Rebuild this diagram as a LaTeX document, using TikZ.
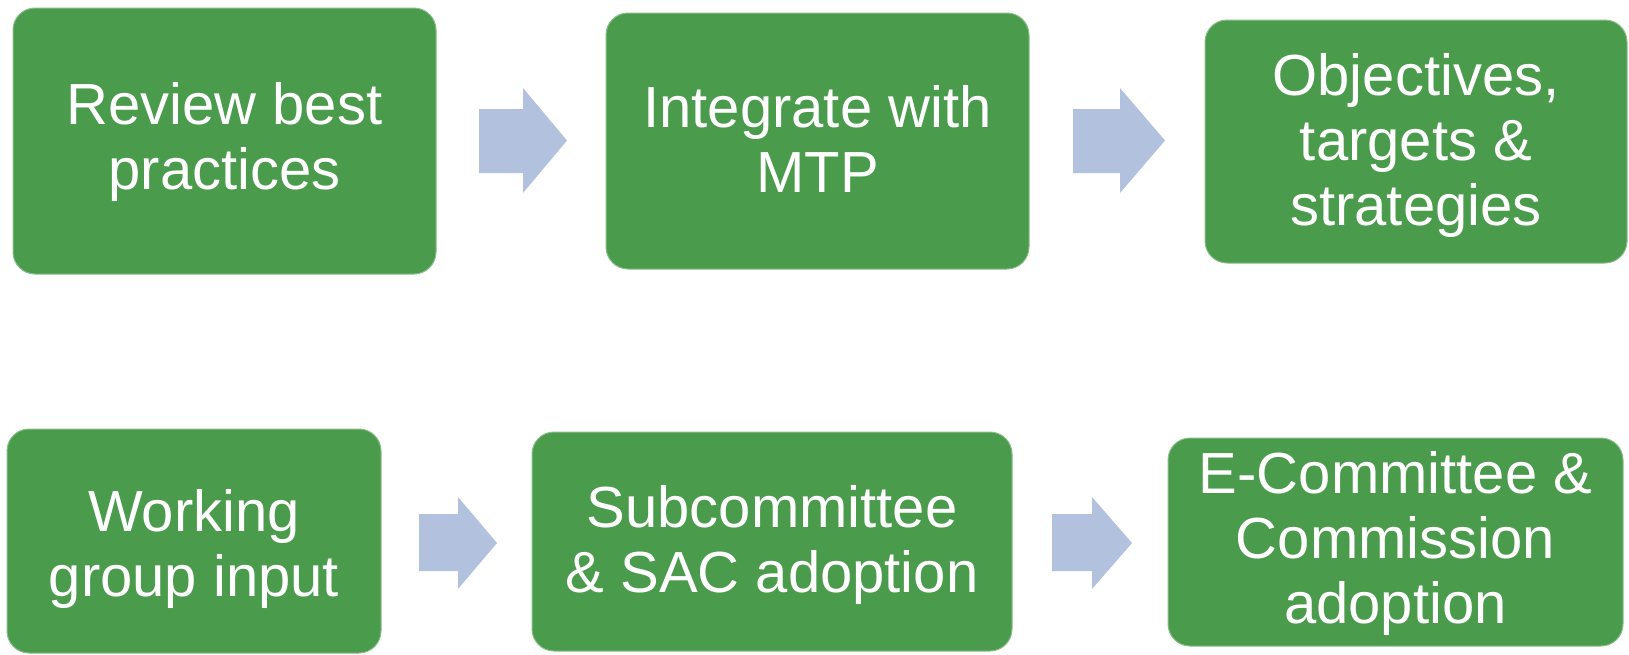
\documentclass[tikz,border=0pt]{standalone}
\usepackage{fontspec}
\setmainfont{Liberation Sans}
\definecolor{boxgreen}{RGB}{74,155,76}
\definecolor{arrowblue}{RGB}{178,193,221}
\begin{document}
\begin{tikzpicture}[x=1pt,y=-1pt,
  stepbox/.style={draw=boxgreen!65!white, line width=1pt, fill=boxgreen, rounded corners=22pt, inner sep=0pt, outer sep=0pt},
  steptext/.style={text=white, align=center, font=\fontsize{58}{65}\selectfont, inner sep=0pt},
  blockarrow/.style={fill=arrowblue}]
\useasboundingbox (0,0) rectangle (1629,654);
% boxes
\node[stepbox, minimum width=423pt, minimum height=266pt] (b1) at (224.5,141) {};
\node[stepbox, minimum width=423pt, minimum height=256pt] (b2) at (817.5,141) {};
\node[stepbox, minimum width=422pt, minimum height=243pt] (b3) at (1416,141.5) {};
\node[stepbox, minimum width=374pt, minimum height=224pt] (b4) at (194,541) {};
\node[stepbox, minimum width=480pt, minimum height=219pt] (b5) at (772,541.5) {};
\node[stepbox, minimum width=455pt, minimum height=208pt] (b6) at (1395.5,542) {};
% texts
\node[steptext] (t1) at (224.5,141.5) {Review best\\practices};
\node[steptext] (t2) at (817.5,138.5) {Integrate with\\MTP};
\node[steptext] (t3) at (1416,145) {Objectives,\\targets \&\\strategies};
\node[steptext] (t4) at (194,549) {Working\\group input};
\node[steptext] (t5) at (772,545) {Subcommittee\\\& SAC adoption};
\node[steptext] (t6) at (1395.5,543) {E-Committee \&\\Commission\\adoption};
% block arrows
\path[blockarrow] (479,109) -- (523,109) -- (523,88) -- (567,140.5) -- (523,193) -- (523,173) -- (479,173) -- cycle;
\path[blockarrow] (1073,109) -- (1120,109) -- (1120,88) -- (1165,140.5) -- (1120,193) -- (1120,173) -- (1073,173) -- cycle;
\path[blockarrow] (419,514) -- (458,514) -- (458,497) -- (497,543) -- (458,589) -- (458,571) -- (419,571) -- cycle;
\path[blockarrow] (1052,514) -- (1092,514) -- (1092,497) -- (1132,543) -- (1092,589) -- (1092,571) -- (1052,571) -- cycle;
\end{tikzpicture}
\end{document}
